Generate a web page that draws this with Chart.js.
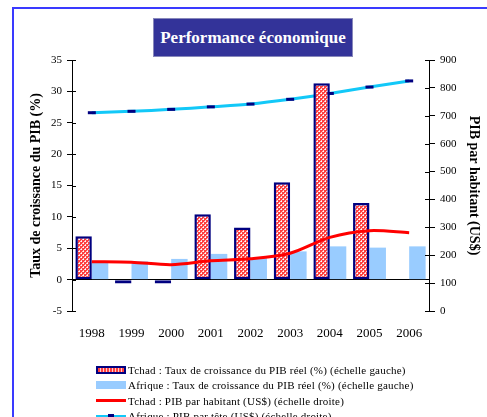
<!DOCTYPE html>
<html>
<head>
<meta charset="utf-8">
<script src="https://cdn.jsdelivr.net/npm/chart.js@4.4.1/dist/chart.umd.min.js"></script>
<style>
  html, body { margin: 0; padding: 0; background: #fff; }
  #wrap { position: relative; width: 487px; height: 417px; overflow: hidden; }
  #frame { position: absolute; left: 12px; top: 7px; width: 600px; height: 600px;
    border-left: 2px solid #3a3aff; border-top: 2px solid #3a3aff; }
  #chart { position: absolute; left: 0; top: 0; }
  #title { position: absolute; left: 153px; top: 18px; width: 198px; height: 37px;
    background: #333399; border: 1px solid #8888bb; color: #fff;
    font: bold 17px "Liberation Serif", serif; text-align: center; line-height: 37px; }
  #legend { position: absolute; left: 96px; top: 362px; font: 11px "Liberation Serif", serif; color: #000; letter-spacing: 0.2px; }
  #legend .row { height: 15.5px; display: flex; align-items: center; white-space: nowrap; }
  #legend .sw { width: 30px; height: 8px; margin-right: 2px; position: relative; flex: none; }
</style>
</head>
<body>
<div id="wrap">
  <div id="frame"></div>
  <canvas id="chart" width="487" height="417"></canvas>
  <div id="title">Performance économique</div>
  <div id="legend"></div>
</div>
<script>
// values
const years = ["1998", "1999", "2000", "2001", "2002", "2003", "2004", "2005", "2006"];
const tchadGrowth = [6.9, -0.6, -0.6, 10.4, 8.3, 15.5, 31.3, 12.2, null];
const afriqueGrowth = [2.9, 2.9, 3.3, 4.1, 3.4, 4.5, 5.3, 5.1, 5.3];
const tchadPib = [177, 175, 166, 180, 187, 207, 264, 288, 281];
const afriquePib = [711, 716, 723, 732, 742, 759, 780, 803, 825];
const leftTicks = { min: -5, max: 35, step: 5 };
const rightTicks = { min: 0, max: 900, step: 100 };

const labels = [
  "Tchad  : Taux de croissance du PIB réel (%) (échelle gauche)",
  "Afrique : Taux de croissance du PIB réel (%) (échelle gauche)",
  "Tchad  : PIB par habitant (US$) (échelle droite)",
  "Afrique : PIB par tête (US$) (échelle droite)",
];

const NAVY = "#000080";
const RED = "#ff0000";
const LIGHT = "#99ccff";
const CYAN = "#12c8f8";

function hatch() {
  const c = document.createElement("canvas");
  c.width = 4; c.height = 4;
  const g = c.getContext("2d");
  g.fillStyle = "#ff4040";
  g.fillRect(0, 0, 4, 4);
  g.fillStyle = "#ffc8c8";
  g.fillRect(1, 0, 1, 1); g.fillRect(0, 1, 1, 1); g.fillRect(3, 2, 1, 1); g.fillRect(2, 3, 1, 1);
  g.fillStyle = "#ffffff";
  g.fillRect(1, 1, 1, 1); g.fillRect(3, 3, 1, 1);
  return g.createPattern(c, "repeat");
}

// tick marks cross the axis line: draw the inner half
const innerTicks = {
  id: "innerTicks",
  afterDraw(chart) {
    const ctx = chart.ctx;
    ctx.save();
    ctx.strokeStyle = "#000";
    ctx.lineWidth = 1;
    for (const id of ["y", "y2"]) {
      const s = chart.scales[id];
      const x = id === "y" ? s.right : s.left;
      const d = id === "y" ? 4 : -4;
      s.ticks.forEach((t) => {
        const py = Math.round(s.getPixelForValue(t.value)) + 0.5;
        ctx.beginPath();
        ctx.moveTo(x, py);
        ctx.lineTo(x + d, py);
        ctx.stroke();
      });
    }
    ctx.restore();
  },
};

const tickFont = { family: "'Liberation Serif', serif", size: 11 };
const titleFont = { family: "'Liberation Serif', serif", size: 14, weight: "bold" };

new Chart(document.getElementById("chart"), {
  type: "bar",
  data: {
    labels: years,
    datasets: [
      { type: "line", data: afriquePib, yAxisID: "y2", order: 4,
        borderColor: CYAN, borderWidth: 3, tension: 0.3,
        pointStyle: "line", pointRadius: 4, pointBorderWidth: 3, pointBorderColor: NAVY, pointBackgroundColor: NAVY },
      { data: tchadGrowth, yAxisID: "y", order: 2,
        backgroundColor: hatch(), borderColor: NAVY, borderWidth: 2.5, borderSkipped: false },
      { data: afriqueGrowth, yAxisID: "y", order: 3, backgroundColor: LIGHT, borderWidth: 0 },
      { type: "line", data: tchadPib, yAxisID: "y2", order: 1,
        borderColor: RED, borderWidth: 3, tension: 0.3, pointRadius: 0 },
    ],
  },
  options: {
    responsive: false, animation: false,
    layout: { padding: { top: 60, left: 0, right: 0, bottom: 0 } },
    datasets: { bar: { categoryPercentage: 0.83, barPercentage: 1 } },
    plugins: { legend: { display: false }, tooltip: { enabled: false } },
    scales: {
      x: {
        offset: true,
        grid: { display: false, drawTicks: false },
        border: { display: false },
        ticks: { color: "#000", font: { family: "'Liberation Serif', serif", size: 13 }, padding: 15 },
        afterFit: (s) => { s.height = 106; },
      },
      y: {
        position: "left", min: leftTicks.min, max: leftTicks.max,
        ticks: { stepSize: leftTicks.step, color: "#000", font: tickFont, padding: 5 },
        grid: { color: (c) => (c.tick && c.tick.value === 0 ? "#000" : "transparent"), tickColor: "#000", tickLength: 5 },
        border: { color: "#000" },
        title: { display: true, text: "Taux de croissance du PIB (%)", color: "#000", font: titleFont, padding: { top: 28, bottom: 0 } },
        afterFit: (s) => { s.width = 72; },
      },
      y2: {
        position: "right", min: rightTicks.min, max: rightTicks.max,
        ticks: { stepSize: rightTicks.step, color: "#000", font: tickFont, padding: 5 },
        grid: { drawOnChartArea: false, color: "#000", tickLength: 6 },
        border: { color: "#000" },
        title: { display: true, text: "PIB par habitant (US$)", color: "#000", font: titleFont, padding: { top: 5, bottom: 0 } },
        afterFit: (s) => { s.width = 58; },
      },
    },
  },
  plugins: [innerTicks],
});

// legend
const legend = document.getElementById("legend");
const swatches = [
  '<div class="sw" style="height:8px;border:2px solid ' + NAVY + ';box-sizing:border-box;background:repeating-linear-gradient(90deg,#ff4040 0 2px,#ffc8c8 2px 3px)"></div>',
  '<div class="sw" style="height:8px;background:' + LIGHT + '"></div>',
  '<div class="sw" style="height:3px;background:' + RED + '"></div>',
  '<div class="sw" style="height:3px;background:' + CYAN + '"><div style="position:absolute;left:12px;top:-1px;width:6px;height:5px;background:' + NAVY + '"></div></div>',
];
labels.forEach((t, i) => {
  const row = document.createElement("div");
  row.className = "row";
  row.innerHTML = swatches[i] + "<span>" + t + "</span>";
  legend.appendChild(row);
});
</script>
</body>
</html>
